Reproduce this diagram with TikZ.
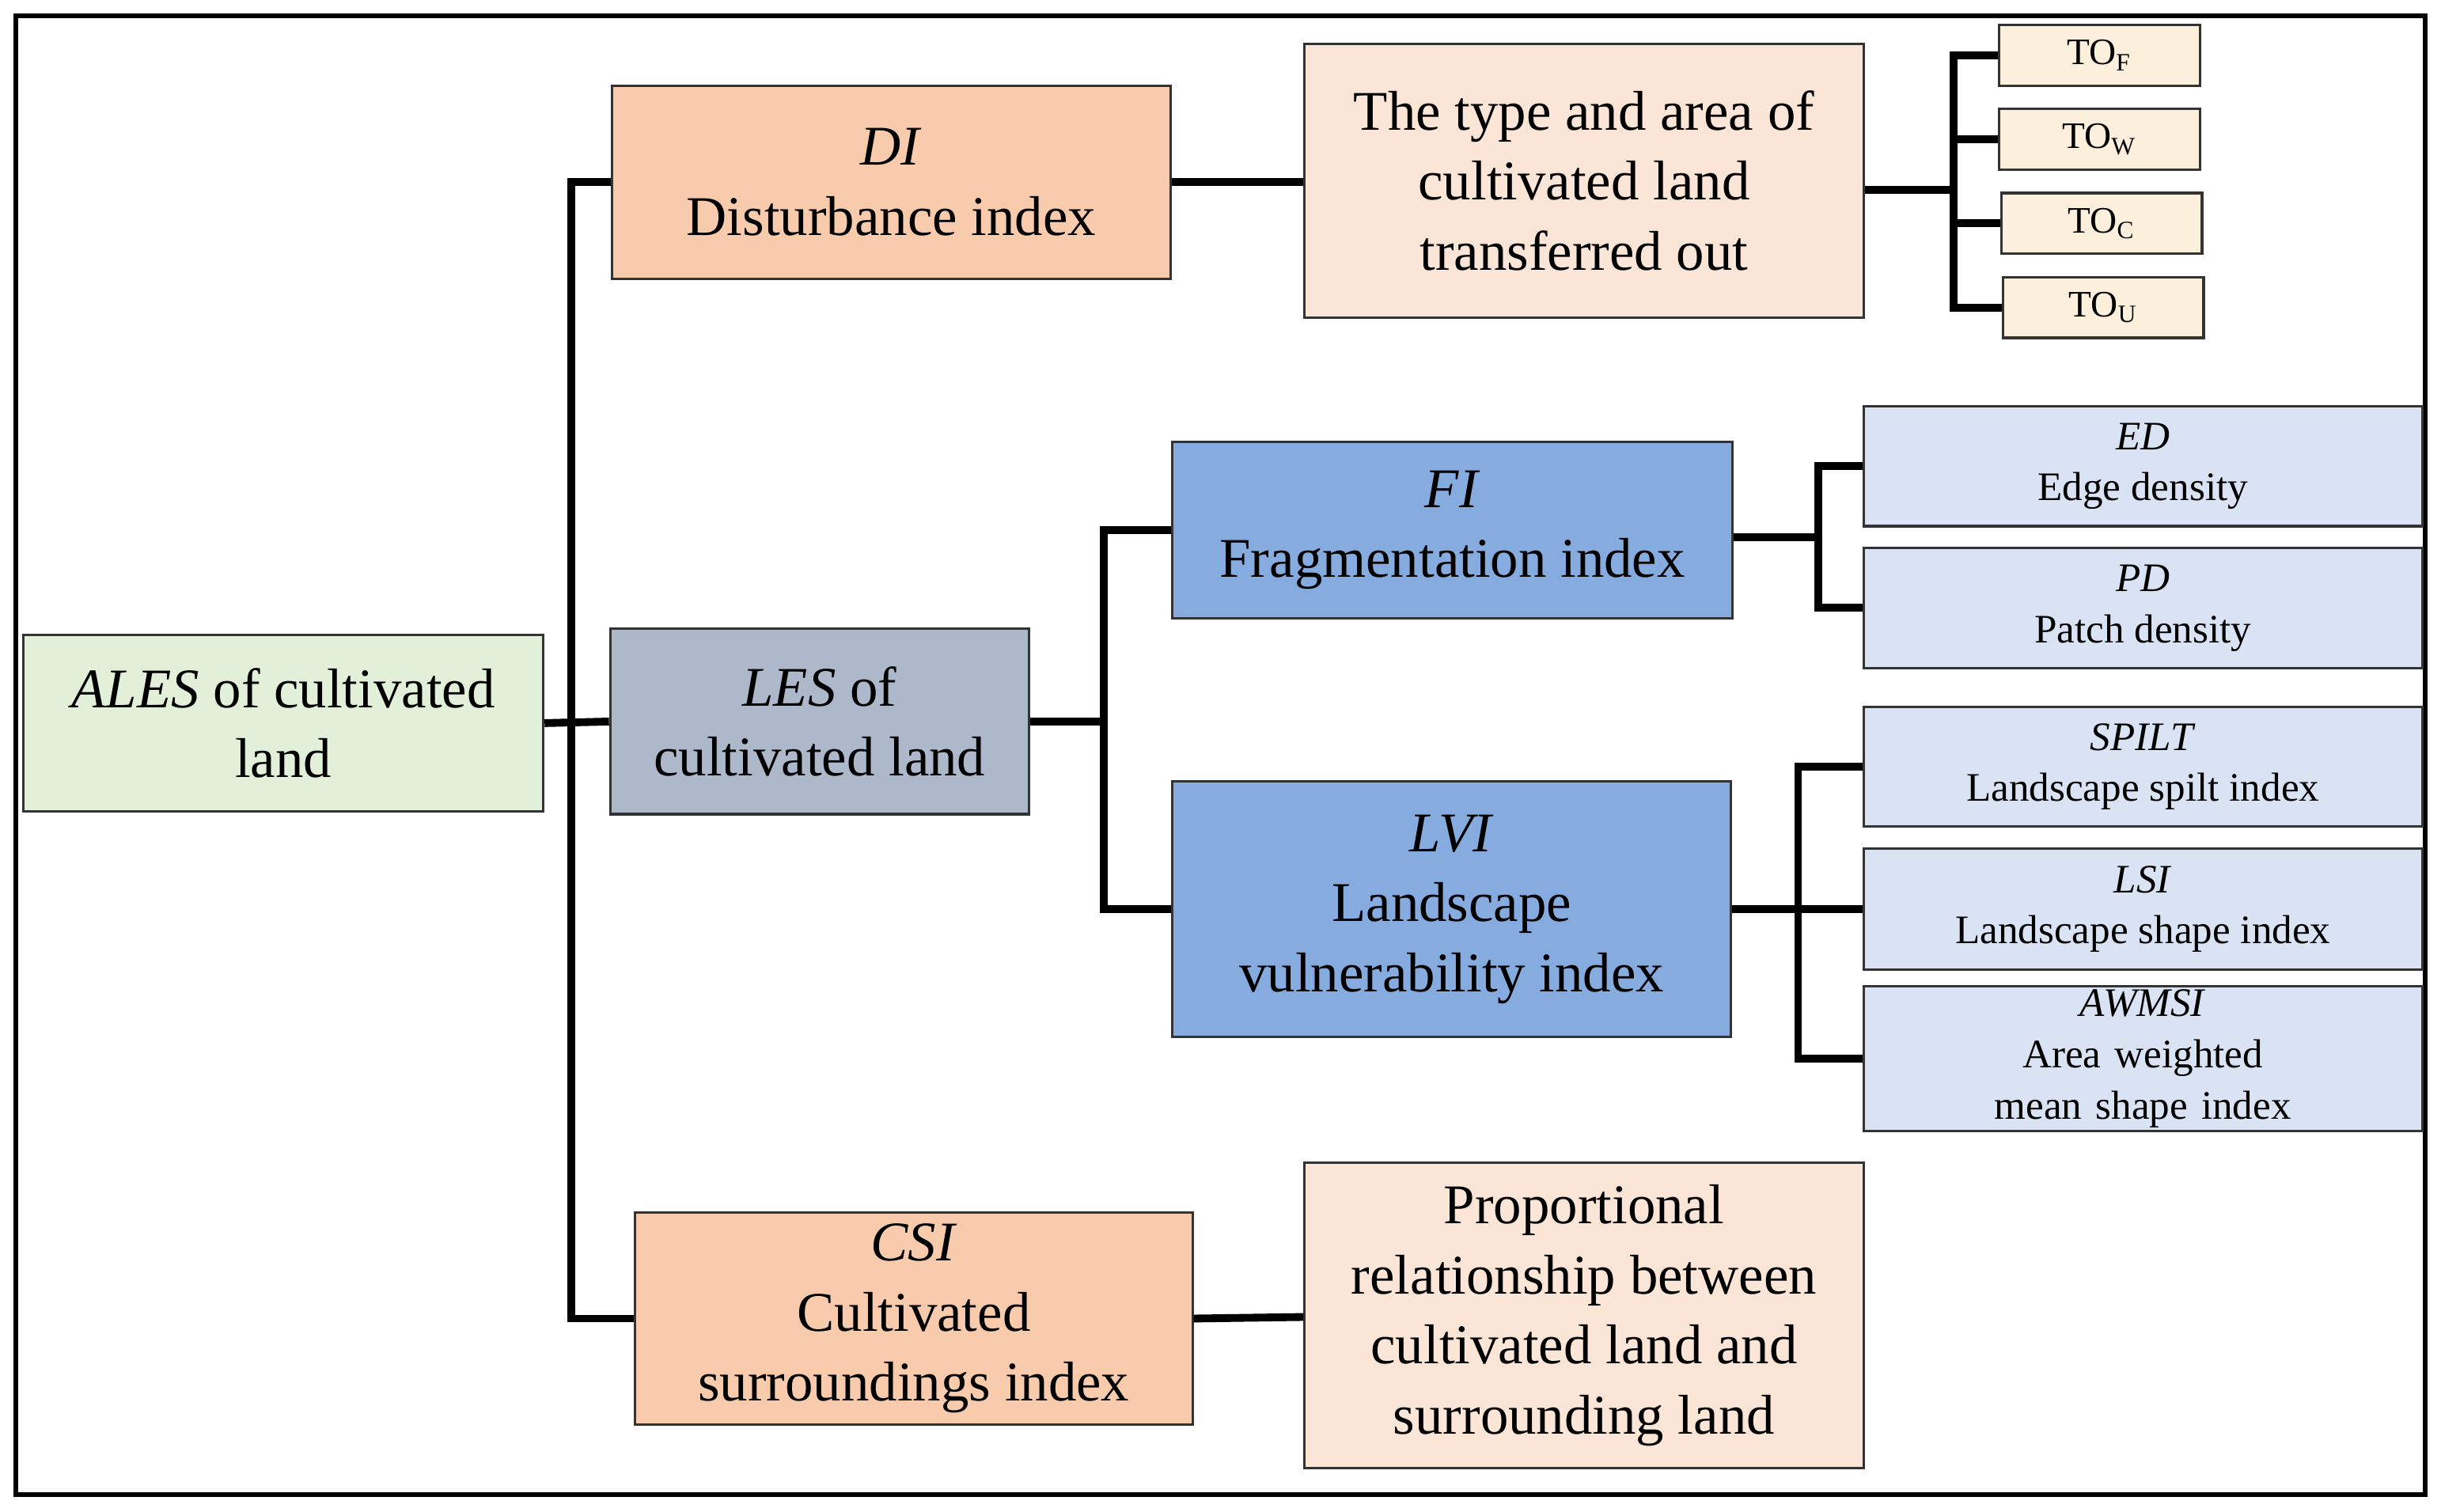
\documentclass[tikz,border=0pt]{standalone}
\usepackage{fontspec}
\setmainfont{Liberation Serif}
\begin{document}
\begin{tikzpicture}[x=0.5pt,y=-0.5pt,
  box/.style={draw=black!80,line width=0.8pt,inner sep=2pt,align=center,font=\fontsize{18}{22.5}\selectfont},
  sbox/.style={draw=black!80,line width=0.8pt,inner sep=1pt,align=center,font=\fontsize{13}{16.5}\selectfont},
  tbox/.style={draw=black!80,line width=0.8pt,inner sep=0pt,align=center,font=\fontsize{12}{14}\selectfont,fill=tanc,minimum width=64.5pt,minimum height=19.5pt},
  con/.style={line width=2.5pt}]
\definecolor{greenc}{HTML}{E2F0D9}
\definecolor{orangec}{HTML}{F8CBAD}
\definecolor{peachc}{HTML}{FBE5D6}
\definecolor{tanc}{HTML}{FCF0DC}
\definecolor{greyc}{HTML}{ADB9CA}
\definecolor{bluec}{HTML}{86ACDF}
\definecolor{lbluec}{HTML}{DAE3F3}
\useasboundingbox (0,0) rectangle (1568,971);
\draw[line width=1.5pt] (10,10) rectangle (1558,960);
\node[box,fill=greenc,minimum width=167pt,minimum height=56.5pt] (ales) at (182,464.5) {\textit{ALES} of cultivated\\land};
\node[box,fill=orangec,minimum width=179.5pt,minimum height=62pt] (di) at (572.5,117) {\textit{DI}\\Disturbance index};
\node[box,fill=peachc,minimum width=179.5pt,minimum height=88pt] (type) at (1017.5,116) {The type and area of\\cultivated land\\transferred out};
\node[tbox] (tof) at (1348.5,35.5) {TO\textsubscript{F}};
\node[tbox] (tow) at (1348.5,89.5) {TO\textsubscript{W}};
\node[tbox] (toc) at (1350,143.5) {TO\textsubscript{C}};
\node[tbox] (tou) at (1351,197.5) {TO\textsubscript{U}};
\node[box,fill=greyc,minimum width=134.5pt,minimum height=59.5pt] (les) at (526.5,463.5) {\textit{LES} of\\cultivated land};
\node[box,fill=bluec,minimum width=180pt,minimum height=56.5pt] (fi) at (933,340.5) {\textit{FI}\\Fragmentation index};
\node[box,fill=bluec,minimum width=179.5pt,minimum height=82pt] (lvi) at (932.5,584) {\textit{LVI}\\Landscape\\vulnerability index};
\node[sbox,fill=lbluec,minimum width=179.5pt,minimum height=38.5pt] (ed) at (1376.5,299.5) {\textit{ED}\\Edge density};
\node[sbox,fill=lbluec,minimum width=179.5pt,minimum height=38.5pt] (pd) at (1376.5,390.5) {\textit{PD}\\Patch density};
\node[sbox,fill=lbluec,minimum width=179.5pt,minimum height=38.5pt] (spilt) at (1376.5,492.5) {\textit{SPILT}\\Landscape spilt index};
\node[sbox,fill=lbluec,minimum width=179.5pt,minimum height=39pt] (lsi) at (1376.5,584) {\textit{LSI}\\Landscape shape index};
\node[sbox,fill=lbluec,minimum width=179.5pt,minimum height=44pt,text width=150pt] (awmsi) at (1376.5,680) {\textit{AWMSI}\\Area weighted mean shape index};
\node[box,fill=orangec,minimum width=179pt,minimum height=68pt] (csi) at (587,847) {\textit{CSI}\\Cultivated\\surroundings index};
\node[box,fill=peachc,minimum width=179.5pt,minimum height=98pt] (prop) at (1017.5,845) {Proportional\\relationship between\\cultivated land and\\surrounding land};
% connectors
\coordinate (j1) at (367,0);
\draw[con] (ales.east) -- (les.west);
\draw[con] (di.west) -| (j1 |- csi.west) -- (csi.west);
\draw[con] (di.east) -- (type.west |- di.east);
\coordinate (j2) at (1255,0);
\draw[con] (type.east |- 0,122) -- (j2 |- 0,122);
\draw[con] (tof.west) -| (j2 |- tou.west) -- (tou.west);
\draw[con] (tow.west) -- (j2 |- tow.west);
\draw[con] (toc.west) -- (j2 |- toc.west);
\coordinate (j3) at (709,0);
\draw[con] (les.east) -- (j3 |- les.east);
\draw[con] (fi.west) -| (j3 |- lvi.west) -- (lvi.west);
\coordinate (j4) at (1168,0);
\draw[con] (fi.east |- 0,345) -- (j4 |- 0,345);
\draw[con] (ed.west) -| (j4 |- pd.west) -- (pd.west);
\coordinate (j5) at (1155,0);
\draw[con] (lvi.east) -- (lsi.west);
\draw[con] (spilt.west) -| (j5 |- awmsi.west) -- (awmsi.west);
\draw[con] (csi.east) -- (prop.west |- 0,846);
\end{tikzpicture}
\end{document}
